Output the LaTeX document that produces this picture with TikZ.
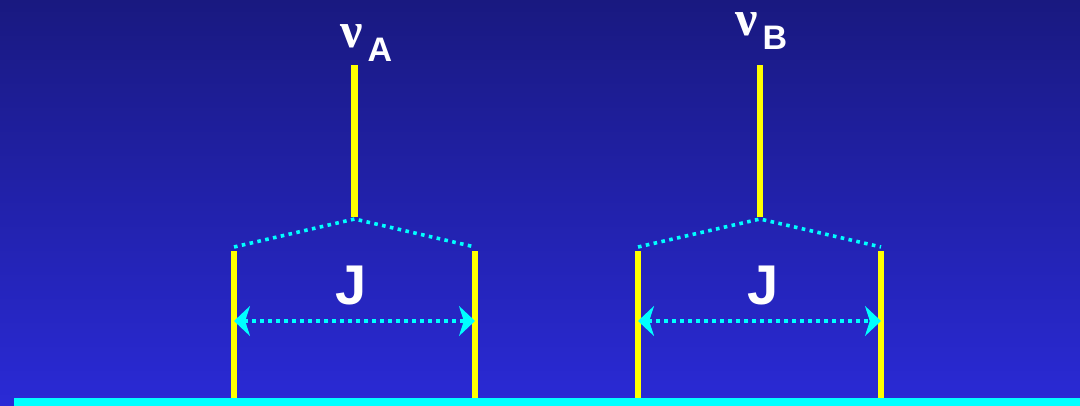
\documentclass[tikz,border=0pt]{standalone}
\usepackage{fontspec}
\setmainfont{Liberation Sans}
\newfontfamily\greekfont{Liberation Serif}
\usetikzlibrary{arrows.meta, positioning}
\definecolor{bgtop}{RGB}{25,25,128}
\definecolor{bgbot}{RGB}{42,42,214}
\definecolor{spin}{RGB}{255,255,0}
\definecolor{link}{RGB}{0,255,255}

\begin{document}
\begin{tikzpicture}[x=0.5pt, y=-0.5pt,
    jtip/.tip={Stealth[length=8pt, width=15pt, inset=2.4pt]},
    post/.style={draw=spin, line width=3.2pt},
    coupling/.style={draw=link, line width=1.8pt, dash pattern=on 1.8pt off 2.2pt},
    jlabel/.style={text=white, font=\bfseries\fontsize{28}{30}\selectfont, inner sep=0pt, anchor=base},
    nulabel/.style={text=white, font=\greekfont\bfseries\fontsize{25}{28}\selectfont, inner sep=0pt, anchor=base west},
    sublabel/.style={text=white, font=\bfseries\fontsize{17}{20}\selectfont, inner sep=0pt, anchor=base west}]
  \shade[top color=bgtop, bottom color=bgbot] (0,0) rectangle (1080,406);
  \useasboundingbox (0,0) rectangle (1080,406);
  \coordinate (base-l) at (14,402);
  \coordinate (base-r) at (1080,402);
  \draw[link, line width=4pt] (base-l) -- (base-r);
  \foreach \n/\l/\r/\s/\nx/\ny/\jx in {A/234/475/354.5/340/48/351, B/638/881/760/735/36/763} {
    \coordinate (\n-lb) at (\l,398);
    \coordinate (\n-lt) at (\l,251);
    \coordinate (\n-rb) at (\r,398);
    \coordinate (\n-rt) at (\r,251);
    \coordinate (\n-sb) at (\s,217);
    \coordinate (\n-st) at (\s,65);
    \coordinate (\n-dl) at (\l,247);
    \coordinate (\n-dt) at (\s,219);
    \coordinate (\n-dr) at (\r,247);
    \coordinate (\n-al) at (\l,321);
    \coordinate (\n-ar) at (\r,321);
    \draw[post] (\n-lb) -- (\n-lt);
    \draw[post] (\n-rb) -- (\n-rt);
    \draw[post] (\n-sb) -- (\n-st);
    \draw[coupling] (\n-dl) -- (\n-dt) -- (\n-dr);
    \draw[coupling, jtip-jtip] (\n-al) -- (\n-ar);
    \node[jlabel] (J-\n) at (\jx,304) {J};
    \node[nulabel] (nu-\n) at (\nx,\ny) {ν};
    \node[sublabel] (sub-\n) at ([xshift=2pt, yshift=-7pt]nu-\n.base east) {\n};
  }
\end{tikzpicture}
\end{document}
